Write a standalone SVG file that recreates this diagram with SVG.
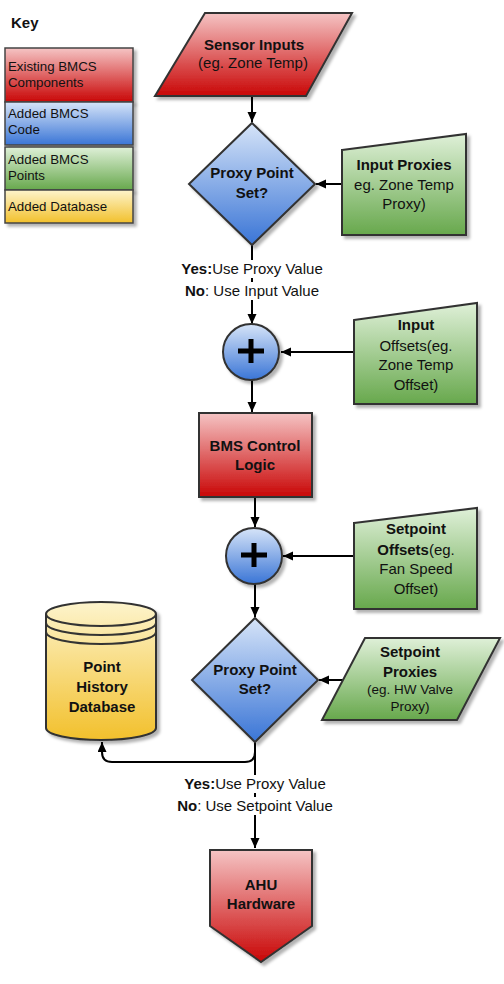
<svg xmlns="http://www.w3.org/2000/svg" width="504" height="984" viewBox="0 0 504 984">
<defs>
<linearGradient id="gRed" x1="0" y1="0" x2="0" y2="1"><stop offset="0" stop-color="#f5c4c4"/><stop offset="1" stop-color="#c90606"/></linearGradient>
<linearGradient id="gBlue" x1="0" y1="0" x2="0" y2="1"><stop offset="0" stop-color="#d6e4f8"/><stop offset="1" stop-color="#3a75d6"/></linearGradient>
<linearGradient id="gGreen" x1="0" y1="0" x2="0" y2="1"><stop offset="0" stop-color="#dff0d8"/><stop offset="1" stop-color="#67a84c"/></linearGradient>
<linearGradient id="gYellow" x1="0" y1="0" x2="0" y2="1"><stop offset="0" stop-color="#fdf4cc"/><stop offset="1" stop-color="#f2c02c"/></linearGradient>
<filter id="sh" x="-10%" y="-10%" width="130%" height="130%"><feDropShadow dx="3" dy="3" stdDeviation="1.5" flood-color="#000" flood-opacity="0.3"/></filter>
<marker id="arr" markerUnits="userSpaceOnUse" markerWidth="11" markerHeight="10" refX="10" refY="4.5" orient="auto"><path d="M0,0 L10,4.5 L0,9 Z" fill="#000"/></marker>
</defs>
<style>
.shape{stroke:#333;stroke-width:2;filter:url(#sh)}
.key{stroke:#444;stroke-width:1.5;filter:url(#sh)}
.red{fill:url(#gRed)}
.blue{fill:url(#gBlue)}
.green{fill:url(#gGreen)}
.yellow{fill:url(#gYellow)}
text{font-family:"Liberation Sans",Arial,sans-serif;fill:#111}
.t{font-size:15px;text-anchor:middle}
.b{font-weight:bold}
.s{font-size:13.5px;text-anchor:middle}
.k{font-size:13.3px}
.conn{fill:none;stroke:#000;stroke-width:2}
.plus{stroke:#000;stroke-width:5;fill:none}
</style>
<rect width="504" height="984" fill="#fff"/>

<g id="key">
<text x="11" y="28" class="b" style="font-size:15px">Key</text>
<rect class="key red" x="5" y="48" width="128" height="54"/>
<rect class="key blue" x="5" y="102" width="128" height="43"/>
<rect class="key green" x="5" y="147" width="128" height="43"/>
<rect class="key yellow" x="5" y="190" width="128" height="33"/>
<text class="k" x="8" y="71">Existing BMCS</text>
<text class="k" x="8" y="87">Components</text>
<text class="k" x="8" y="118">Added BMCS</text>
<text class="k" x="8" y="134">Code</text>
<text class="k" x="8" y="164">Added BMCS</text>
<text class="k" x="8" y="180">Points</text>
<text class="k" x="8" y="211">Added Database</text>
</g>

<g id="connectors">
<path class="conn" d="M252,96 V122" marker-end="url(#arr)"/>
<path class="conn" d="M252,245 V324" marker-end="url(#arr)"/>
<path class="conn" d="M342,184 H316" marker-end="url(#arr)"/>
<path class="conn" d="M354,352 H281" marker-end="url(#arr)"/>
<path class="conn" d="M252,380 V412" marker-end="url(#arr)"/>
<path class="conn" d="M255,497 V527" marker-end="url(#arr)"/>
<path class="conn" d="M354,556 H283" marker-end="url(#arr)"/>
<path class="conn" d="M255,584 V617" marker-end="url(#arr)"/>
<path class="conn" d="M343,680 H319" marker-end="url(#arr)"/>
<path class="conn" d="M255,742 V752 Q255,762 245,762 H112 Q102,762 102,752 V742" marker-end="url(#arr)"/>
<path class="conn" d="M255,742 V848" marker-end="url(#arr)"/>
</g>

<g id="sensor-inputs">
<polygon class="shape red" points="205,13 352,13 306,96 155,96"/>
<text class="t b" x="254" y="50">Sensor Inputs</text>
<text class="t" x="253" y="68">(eg. Zone Temp)</text>
</g>

<g id="proxy-decision-1">
<polygon class="shape blue" points="252,123 315,184 252,245 189,184"/>
<text class="t b" x="252" y="178">Proxy Point</text>
<text class="t b" x="252" y="198">Set?</text>
</g>

<g id="input-proxies">
<polygon class="shape green" points="342,150 466,134 466,235 342,235"/>
<text class="t b" x="404" y="170">Input Proxies</text>
<text class="t" x="404" y="190">eg. Zone Temp</text>
<text class="t" x="404" y="209">Proxy)</text>
</g>

<g id="label-1">
<rect x="175" y="260" width="155" height="18" fill="#fff"/>
<rect x="180" y="282" width="145" height="18" fill="#fff"/>
<text class="t" x="252" y="274"><tspan class="b">Yes:</tspan>Use Proxy Value</text>
<text class="t" x="252" y="296"><tspan class="b">No</tspan>: Use Input Value</text>
</g>

<g id="sum-1">
<circle class="shape blue" cx="251" cy="352" r="28"/>
<path class="plus" d="M238,351 H264 M251,339 V363"/>
</g>

<g id="input-offsets">
<polygon class="shape green" points="354,320 477,303 477,404 354,404"/>
<text class="t b" x="416" y="330">Input</text>
<text class="t" x="416" y="351">Offsets(eg.</text>
<text class="t" x="416" y="370">Zone Temp</text>
<text class="t" x="416" y="390">Offset)</text>
</g>

<g id="bms-control-logic">
<rect class="shape red" x="199" y="413" width="113" height="84"/>
<text class="t b" x="255" y="451">BMS Control</text>
<text class="t b" x="255" y="470">Logic</text>
</g>

<g id="sum-2">
<circle class="shape blue" cx="254" cy="556" r="28"/>
<path class="plus" d="M241,555 H267 M254,543 V567"/>
</g>

<g id="setpoint-offsets">
<polygon class="shape green" points="354,523 477,508 477,609 354,609"/>
<text class="t b" x="416" y="534">Setpoint</text>
<text class="t" x="416" y="555"><tspan class="b">Offsets</tspan>(eg.</text>
<text class="t" x="416" y="574">Fan Speed</text>
<text class="t" x="416" y="594">Offset)</text>
</g>

<g id="proxy-decision-2">
<polygon class="shape blue" points="255,618 318,680 255,742 192,680"/>
<text class="t b" x="255" y="675">Proxy Point</text>
<text class="t b" x="255" y="694">Set?</text>
</g>

<g id="setpoint-proxies">
<polygon class="shape green" points="365,638 500,638 457,720 322,720"/>
<text class="t b" x="410" y="657">Setpoint</text>
<text class="t b" x="410" y="677">Proxies</text>
<text class="s" x="410" y="694">(eg. HW Valve</text>
<text class="s" x="410" y="711">Proxy)</text>
</g>

<g id="point-history-database">
<path class="shape yellow" d="M46,614 A55,12 0 0 1 156,614 V728 A55,12 0 0 1 46,728 Z"/>
<path d="M46,614 A55,12 0 0 0 156,614 M46,623 A55,12 0 0 0 156,623 M46,632 A55,12 0 0 0 156,632" fill="none" stroke="#333" stroke-width="2"/>
<text class="t b" x="102" y="672">Point</text>
<text class="t b" x="102" y="692">History</text>
<text class="t b" x="102" y="712">Database</text>
</g>

<g id="label-2">
<rect x="175" y="775" width="160" height="18" fill="#fff"/>
<rect x="170" y="797" width="170" height="18" fill="#fff"/>
<text class="t" x="255" y="789"><tspan class="b">Yes:</tspan>Use Proxy Value</text>
<text class="t" x="255" y="811"><tspan class="b">No</tspan>: Use Setpoint Value</text>
</g>

<g id="ahu-hardware">
<polygon class="shape red" points="210,850 312,850 312,926 261,962 210,926"/>
<text class="t b" x="261" y="890">AHU</text>
<text class="t b" x="261" y="909">Hardware</text>
</g>
</svg>
